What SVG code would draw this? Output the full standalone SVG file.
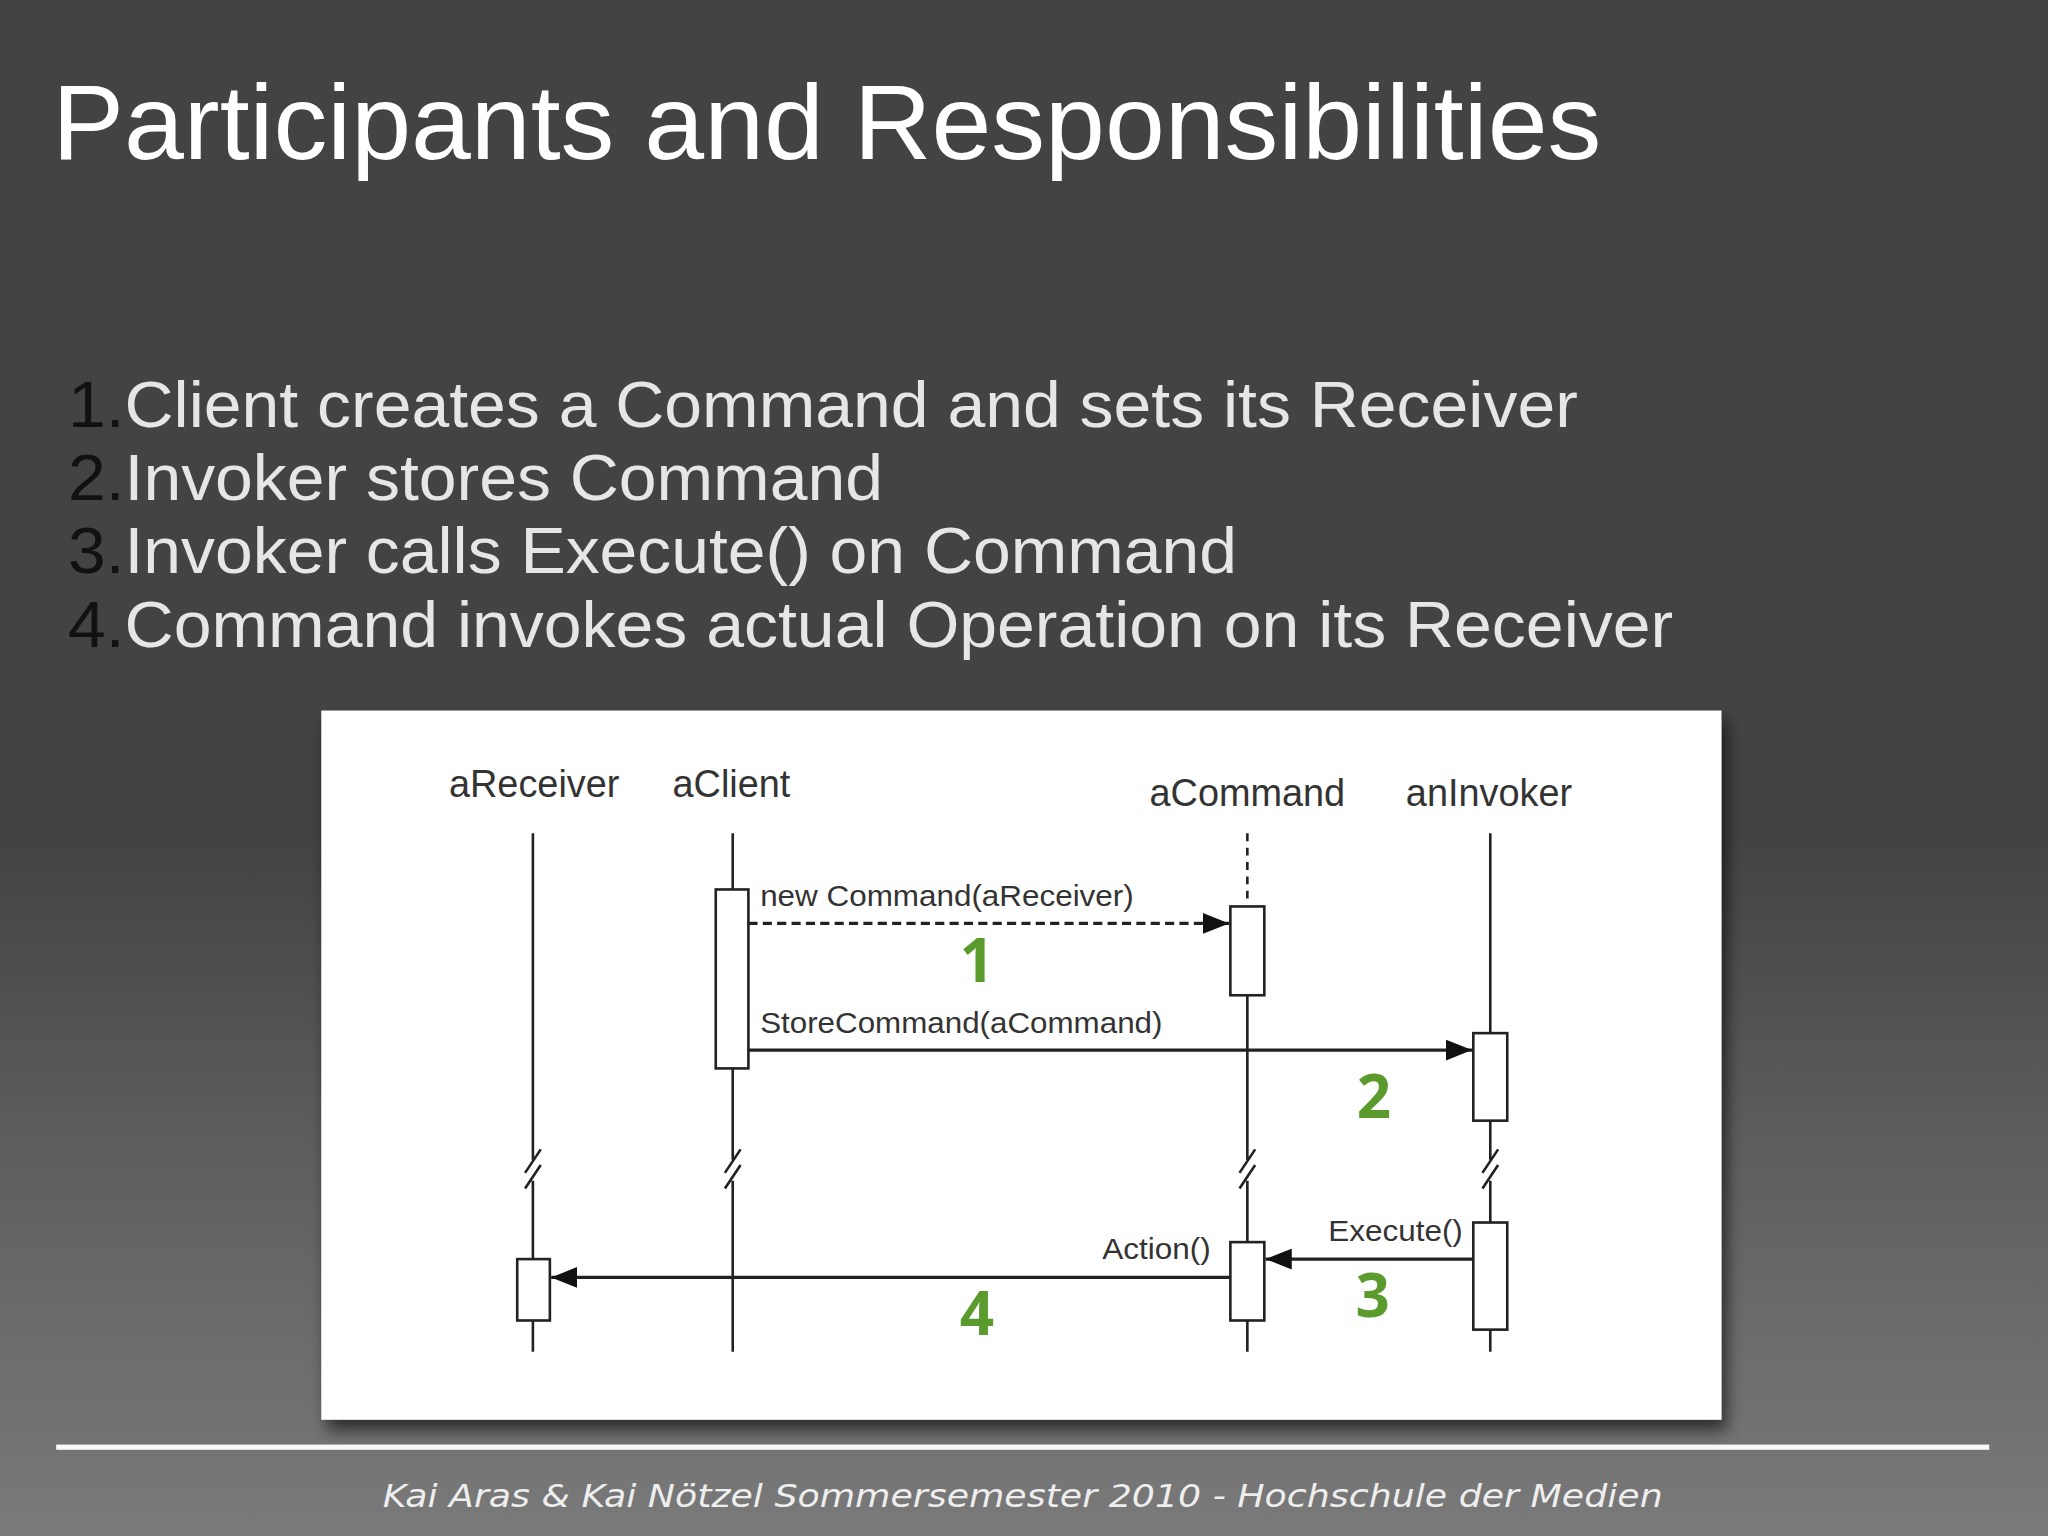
<svg xmlns="http://www.w3.org/2000/svg" width="2048" height="1536" viewBox="0 0 2048 1536">
<defs>
<linearGradient id="bg" x1="0" y1="0" x2="0" y2="1">
<stop offset="0" stop-color="#434343"/><stop offset="0.55" stop-color="#434343"/><stop offset="0.75" stop-color="#5e5e5e"/><stop offset="1" stop-color="#7a7a7a"/>
</linearGradient>
<filter id="sh" x="-5%" y="-5%" width="110%" height="115%"><feDropShadow dx="4" dy="8" stdDeviation="6" flood-color="#000" flood-opacity="0.6"/></filter>
<marker id="ah" viewBox="0 0 10 10" refX="10" refY="5" markerWidth="20" markerHeight="16" markerUnits="userSpaceOnUse" orient="auto" preserveAspectRatio="none"><path d="M0,0 L10,5 L0,10 Z" fill="#111"/></marker>
<style>
.ll{stroke:#222;stroke-width:2;fill:none}
.act{fill:#fff;stroke:#222;stroke-width:2}
.msg{stroke:#222;stroke-width:2.5;fill:none;marker-end:url(#ah)}
.lbl{font-family:"Liberation Sans",Arial,sans-serif;font-size:22px;fill:#333}
.obj{font-family:"Liberation Sans",Arial,sans-serif;font-size:29px;fill:#333;text-anchor:middle}
.num{font-family:"Open Sans","DejaVu Sans",sans-serif;font-size:46px;font-weight:bold;fill:#5b9a2c;text-anchor:middle}
.li{font-family:"Liberation Sans",Arial,sans-serif;font-size:50px;fill:#e6e6e6}
</style>
</defs>
<rect width="2048" height="1536" fill="url(#bg)"/>
<g transform="scale(1.30612)">
<text x="40" y="122" font-family="Liberation Sans,Arial,sans-serif" font-size="81" fill="#fff" textLength="1186" lengthAdjust="spacingAndGlyphs">Participants and Responsibilities</text>
<text class="li" x="52" y="327" textLength="1156" lengthAdjust="spacingAndGlyphs"><tspan fill="#111">1.</tspan>Client creates a Command and sets its Receiver</text>
<text class="li" x="52" y="383" textLength="624" lengthAdjust="spacingAndGlyphs"><tspan fill="#111">2.</tspan>Invoker stores Command</text>
<text class="li" x="52" y="439" textLength="895" lengthAdjust="spacingAndGlyphs"><tspan fill="#111">3.</tspan>Invoker calls Execute() on Command</text>
<text class="li" x="52" y="495" textLength="1229" lengthAdjust="spacingAndGlyphs"><tspan fill="#111">4.</tspan>Command invokes actual Operation on its Receiver</text>
<rect x="246" y="544" width="1072" height="543" fill="#fff" filter="url(#sh)"/>
<g id="aReceiver">
<text class="obj" x="409" y="610">aReceiver</text>
<path class="ll" d="M408,638 V888 M408,904 V1035 M402,898 L414,880 M402,910 L414,892"/>
<rect class="act" x="396" y="964" width="25" height="47"/>
</g>
<g id="aClient">
<text class="obj" x="560" y="610">aClient</text>
<path class="ll" d="M561,638 V888 M561,904 V1035 M555,898 L567,880 M555,910 L567,892"/>
<rect class="act" x="548" y="681" width="25" height="137"/>
</g>
<g id="aCommand">
<text class="obj" x="955" y="617">aCommand</text>
<path class="ll" d="M955,638 V693" stroke-dasharray="6,5"/>
<path class="ll" d="M955,762 V888 M955,904 V1035 M949,898 L961,880 M949,910 L961,892"/>
<rect class="act" x="942" y="694" width="26" height="68"/>
<rect class="act" x="942" y="951" width="26" height="60"/>
</g>
<g id="anInvoker">
<text class="obj" x="1140" y="617">anInvoker</text>
<path class="ll" d="M1141,638 V888 M1141,904 V1035 M1135,898 L1147,880 M1135,910 L1147,892"/>
<rect class="act" x="1128" y="791" width="26" height="67"/>
<rect class="act" x="1128" y="936" width="26" height="82"/>
</g>
<g id="connectors">
<path class="msg" d="M573,707 H941" stroke-dasharray="7,4"/>
<text class="lbl" x="582" y="694" textLength="286" lengthAdjust="spacingAndGlyphs">new Command(aReceiver)</text>
<path class="msg" d="M573,804 H1127"/>
<text class="lbl" x="582" y="791" textLength="308" lengthAdjust="spacingAndGlyphs">StoreCommand(aCommand)</text>
<path class="msg" d="M1128,964 H969"/>
<text class="lbl" x="1017" y="950" textLength="103" lengthAdjust="spacingAndGlyphs">Execute()</text>
<path class="msg" d="M942,978 H422"/>
<text class="lbl" x="844" y="964" textLength="83" lengthAdjust="spacingAndGlyphs">Action()</text>
</g>
<text class="num" x="748" y="752">1</text>
<text class="num" x="1052" y="856">2</text>
<text class="num" x="1051" y="1008">3</text>
<text class="num" x="748" y="1022">4</text>
<rect x="43" y="1106" width="1480" height="4" fill="#fafafa"/>
<text x="293" y="1154" font-family="DejaVu Sans,sans-serif" font-style="italic" font-size="25" fill="#eee" textLength="980" lengthAdjust="spacingAndGlyphs">Kai Aras &amp; Kai Nötzel Sommersemester 2010  - Hochschule der Medien</text>
</g>
</svg>
